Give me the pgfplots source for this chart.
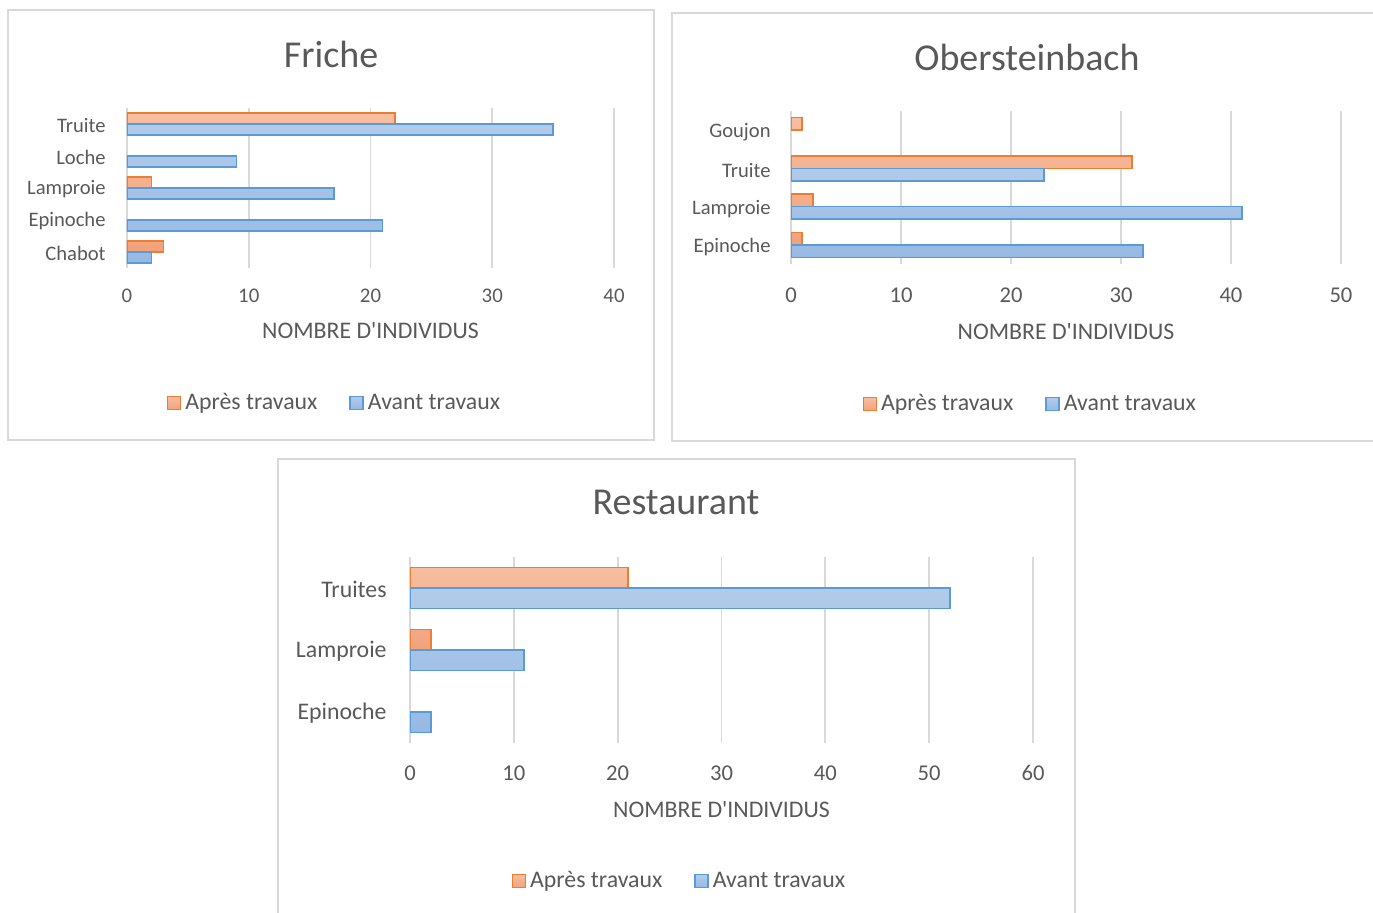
\documentclass[border=0pt]{standalone}
\usepackage{fontspec}
\setmainfont{Carlito}[Ligatures=TeXOff]
\usepackage{pgfplots}
\pgfplotsset{compat=1.18}
\definecolor{txt}{HTML}{595959}
\definecolor{grd}{HTML}{D9D9D9}
\definecolor{obord}{HTML}{ED7D31}
\definecolor{otop}{HTML}{F7BEA0}
\definecolor{obot}{HTML}{F2A27C}
\definecolor{bbord}{HTML}{5B9BD5}
\definecolor{btop}{HTML}{B2CBEA}
\definecolor{bbot}{HTML}{96B9E3}
\pgfplotsset{
  panel/.style={
    xbar, scale only axis, axis line style={draw=none}, major tick length=0pt,
    xmin=0, xmajorgrids, grid style={grd, line width=0.9pt},
    /pgf/number format/assume math mode=true,
    xticklabel style={text=txt, anchor=center, inner sep=0pt},
    yticklabel style={text=txt, anchor=east, inner sep=0pt},
    xlabel={NOMBRE D'INDIVIDUS},
    xlabel style={at={(axis description cs:0.5,0)}, anchor=center, text=txt, font=\fontsize{11.9}{14}\selectfont},
    title style={anchor=center, text=txt, font=\fontsize{19}{22}\selectfont},
    legend columns=2,
    legend style={draw=none, fill=none, text=txt, font=\fontsize{11.9}{14}\selectfont, anchor=center,
      /tikz/every even column/.append style={column sep=14pt}},
    legend image code/.code={\draw[##1] (0pt,-3.25pt) rectangle (6.5pt,3.25pt);},
  },
  apres/.style={draw=obord, line width=0.75pt, top color=otop, bottom color=obot},
  avant/.style={draw=bbord, line width=0.75pt, top color=btop, bottom color=bbot},
}
\begin{document}
\begin{tikzpicture}
\useasboundingbox (0pt,0pt) rectangle (686.5pt,-456.5pt);
% panel frames
\draw[grd, line width=0.9pt] (4pt,-5pt) rectangle (327pt,-220pt);
\draw[grd, line width=0.9pt] (690pt,-6.5pt) -- (336pt,-6.5pt) -- (336pt,-220.5pt) -- (690pt,-220.5pt);
\draw[grd, line width=0.9pt] (139pt,-460pt) -- (139pt,-229.5pt) -- (537.5pt,-229.5pt) -- (537.5pt,-460pt);

% Friche
\begin{axis}[panel, at={(63.5pt,-134pt)}, anchor=south west,
  width=243.5pt, height=80pt, xmax=40, xtick={0,10,20,30,40},
  ymin=-0.5, ymax=4.5, ytick={0,1,2,3,4},
  yticklabels={Chabot,Epinoche,Lamproie,Loche,Truite},
  bar width=5.5pt,
  xticklabel style={font=\fontsize{10.4}{12}\selectfont, yshift=-14pt},
  yticklabel style={font=\fontsize{10.3}{12}\selectfont, xshift=-10.5pt, yshift=-0.5pt},
  xlabel style={yshift=-31.5pt},
  title={Friche}, title style={at={(axis description cs:0.419,1)}, yshift=21pt},
  legend style={at={(axis description cs:0.428,0)}, yshift=-67.5pt}]
\addplot[apres, bar shift=2.75pt] coordinates {(22,4) (2,2) (3,0)};
\addplot[avant, bar shift=-2.75pt] coordinates {(35,4) (9,3) (17,2) (21,1) (2,0)};
\legend{Après travaux, Avant travaux}
\end{axis}

% Obersteinbach
\begin{axis}[panel, at={(395.5pt,-132pt)}, anchor=south west,
  width=275pt, height=76.5pt, xmax=50, xtick={0,10,20,30,40,50},
  ymin=-0.5, ymax=3.5, ytick={0,1,2,3},
  yticklabels={Epinoche,Lamproie,Truite,Goujon},
  bar width=6.25pt,
  xticklabel style={font=\fontsize{11.3}{13}\selectfont, yshift=-15.5pt},
  yticklabel style={font=\fontsize{10.3}{12}\selectfont, xshift=-10pt, yshift=-1pt},
  xlabel style={yshift=-34pt},
  title={Obersteinbach}, title style={at={(axis description cs:0.429,1)}, yshift=21pt},
  legend style={at={(axis description cs:0.437,0)}, yshift=-70pt}]
\addplot[apres, bar shift=3.125pt] coordinates {(1,3) (31,2) (2,1) (1,0)};
\addplot[avant, bar shift=-3.125pt] coordinates {(23,2) (41,1) (32,0)};
\legend{Après travaux, Avant travaux}
\end{axis}

% Restaurant
\begin{axis}[panel, at={(205pt,-371.5pt)}, anchor=south west,
  width=311.5pt, height=93pt, xmax=60, xtick={0,10,20,30,40,50,60},
  ymin=-0.5, ymax=2.5, ytick={0,1,2},
  yticklabels={Epinoche,Lamproie,Truites},
  bar width=10.25pt,
  xticklabel style={font=\fontsize{11.3}{13}\selectfont, yshift=-15pt},
  yticklabel style={font=\fontsize{11.9}{14}\selectfont, xshift=-11.5pt, yshift=-0.5pt},
  xlabel style={yshift=-33.5pt},
  title={Restaurant}, title style={at={(axis description cs:0.427,1)}, yshift=21.5pt},
  legend style={at={(axis description cs:0.434,0)}, yshift=-69pt}]
\addplot[apres, bar shift=5.125pt] coordinates {(21,2) (2,1)};
\addplot[avant, bar shift=-5.125pt] coordinates {(52,2) (11,1) (2,0)};
\legend{Après travaux, Avant travaux}
\end{axis}
\end{tikzpicture}
\end{document}
